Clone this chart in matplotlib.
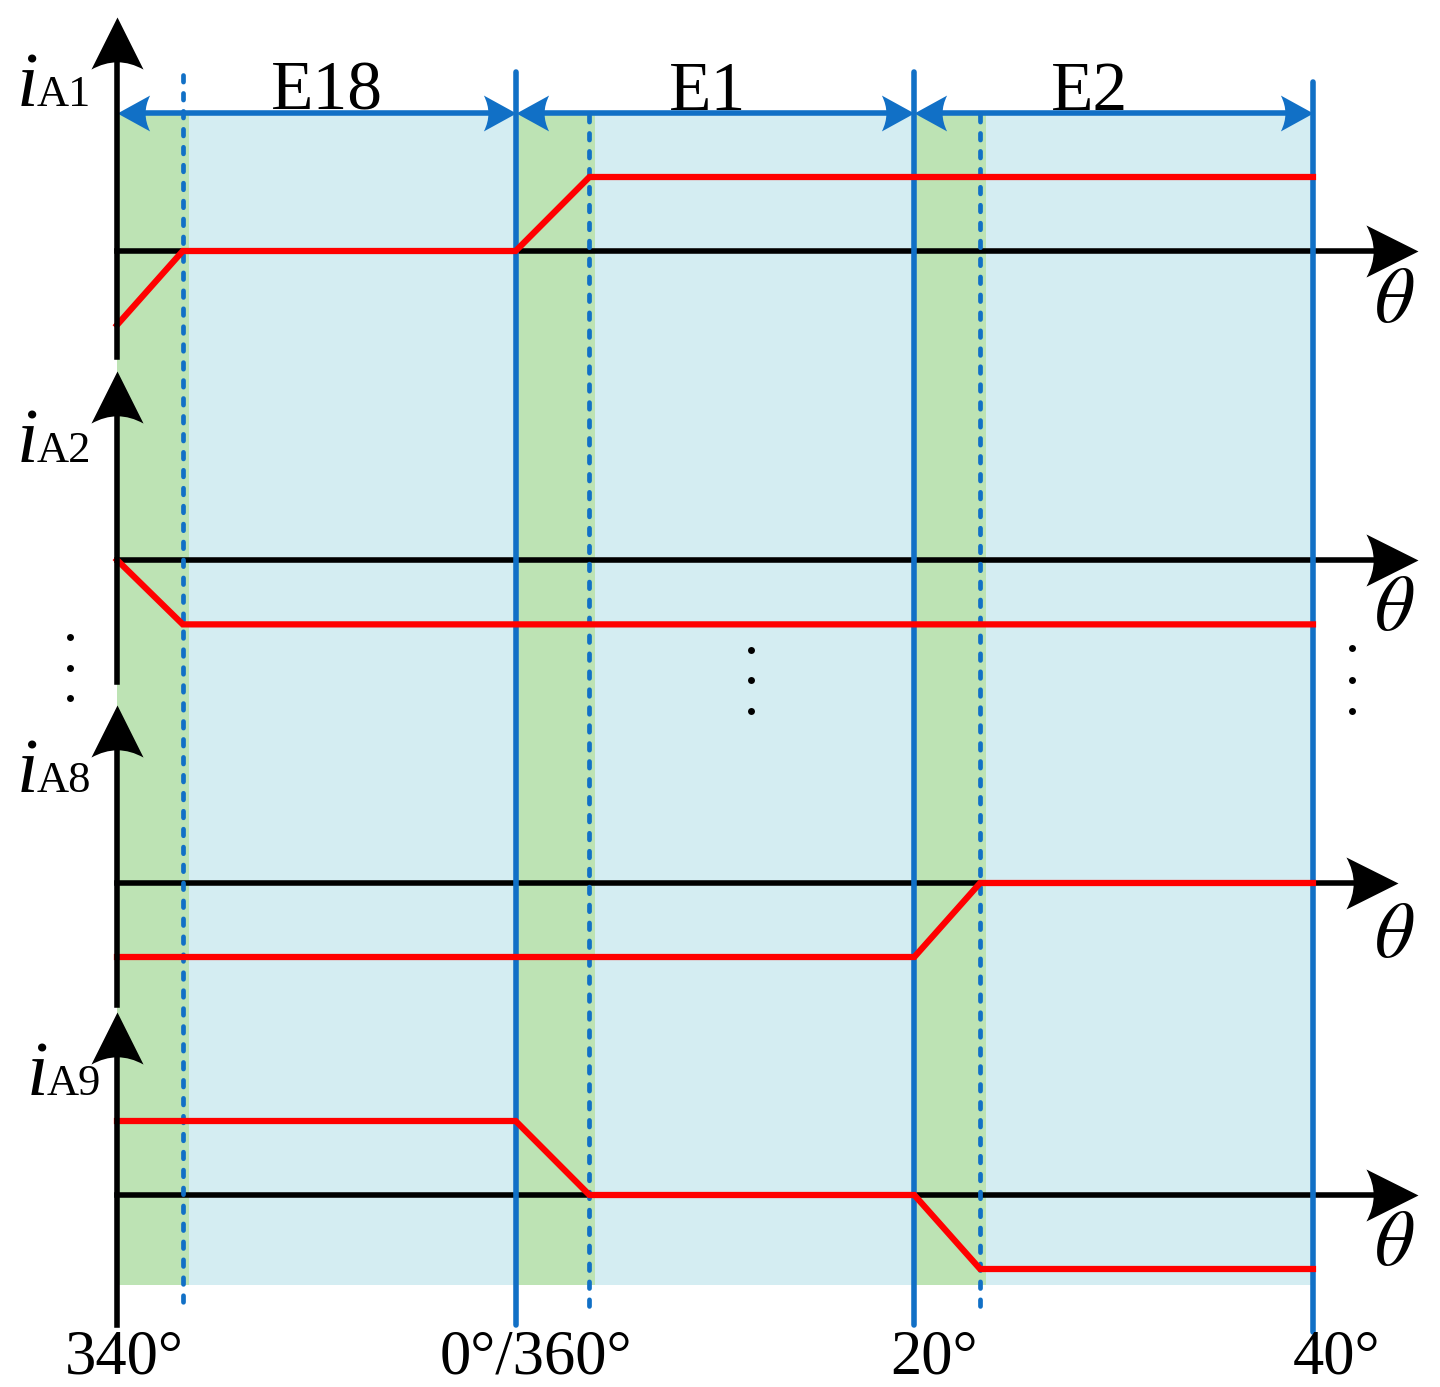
import numpy as np
import matplotlib
matplotlib.use("Agg")
import matplotlib.pyplot as plt
from matplotlib.path import Path
from matplotlib.markers import MarkerStyle
from matplotlib.transforms import Affine2D
from matplotlib.patches import Rectangle

plt.rcParams['mathtext.fontset'] = 'stix'
plt.rcParams['font.family'] = ['Liberation Serif', 'DejaVu Serif']

# === Data ===
# rotor angle in degrees, 340 deg written as -20
sector_edges = [-20, 0, 20, 40]
edge_labels = ['340°', '0°/360°', '20°', '40°']
sector_names = ['E18', 'E1', 'E2']
overlap_end = [-16.7, 3.7, 23.3]     # end of commutation overlap in each sector

phases = ['A1', 'A2', 'A8', 'A9']
theta_A1 = [-20, -16.7, 0, 3.7, 40]
i_A1 = [-1, 0, 0, 1, 1]
theta_A2 = [-20, -16.7, 40]
i_A2 = [0, -0.87, -0.87]
theta_A8 = [-20, 20, 23.3, 40]
i_A8 = [-1, -1, 0, 0]
theta_A9 = [-20, 0, 3.7, 20, 23.3, 40]
i_A9 = [1, 1, 0, 0, -1, -1]
waves = [(theta_A1, i_A1), (theta_A2, i_A2), (theta_A8, i_A8), (theta_A9, i_A9)]

# === Layout (vertical unit = pixel rows, x = degrees) ===
W, H = 1440, 1387
PX_PER_DEG = 19.933
X0_PX = 117


def X(px):
    return -20 + (px - X0_PX) / PX_PER_DEG


baselines = [251, 560, 883, 1195]
AMP = 74
axis_top = [17, 371, 705, 1012]
axis_bottom = [357, 682, 1005, 1325]
axis_tip = [1418, 1418, 1398, 1418]
label_left = [17, 17, 17, 27]
label_base = [106, 462, 792, 1095]
theta_y = [303, 611, 938, 1246]

GREEN = '#bde3b4'
LBLUE = '#d4edf2'
BLUE = '#1170c6'
RED = '#ff0000'
LW = 4.0


def head(angle, width=1.0):
    verts = [(0, 0), (-1, width / 2), (-0.72, 0), (-1, -width / 2), (0, 0)]
    codes = [Path.MOVETO, Path.LINETO, Path.CURVE3, Path.CURVE3, Path.CLOSEPOLY]
    return MarkerStyle(Path(verts, codes), transform=Affine2D().rotate_deg(angle))


fig = plt.figure(figsize=(W / 100, H / 100), dpi=100)
ax = fig.add_axes([0, 0, 1, 1])
ax.set_xlim(X(0), X(W))
ax.set_ylim(H, 0)
ax.axis('off')

# background regions
ax.add_patch(Rectangle((sector_edges[0], 113), sector_edges[-1] - sector_edges[0], 1285 - 113,
                       facecolor=LBLUE, edgecolor='none', zorder=0))
for s, e in zip(sector_edges[:-1], overlap_end):
    ax.add_patch(Rectangle((s, 113), e - s + 0.3, 1285 - 113,
                           facecolor=GREEN, edgecolor='none', zorder=0.5))

# sector boundaries
for k, x in enumerate(sector_edges[1:]):
    top = 82 if k == 2 else 72
    bot = 1332 if k == 2 else 1325
    ax.plot([x, x], [top, bot], color=BLUE, lw=LW, solid_capstyle='round', zorder=3)
for k, x in enumerate(overlap_end):
    top = 75 if k == 0 else 115
    ax.plot([x, x], [top, 1313], color=BLUE, lw=3.4, linestyle=(0, (1.4, 2.4)),
            dash_capstyle='round', zorder=3)

# sector arrows and names
name_x = [327, 708, 1090]
for k, (s, e) in enumerate(zip(sector_edges[:-1], sector_edges[1:])):
    ax.plot([s + 1, e - 1], [113, 113], color=BLUE, lw=LW, zorder=4)
    ax.plot([s], [113], marker=head(180, 1.1), ms=47, color=BLUE, mew=0, zorder=4)
    ax.plot([e], [113], marker=head(0, 1.1), ms=47, color=BLUE, mew=0, zorder=4)
    ax.text(X(name_x[k]), 110, sector_names[k], fontsize=50, ha='center', va='baseline', zorder=5)

# phase axes and currents
for k in range(len(phases)):
    y0 = baselines[k]
    # vertical axis
    ax.plot([-20, -20], [axis_bottom[k], axis_top[k] + 40], color='black', lw=LW, zorder=5)
    ax.plot([-20], [axis_top[k]], marker=head(90), ms=75, color='black', mew=0, zorder=6)
    # horizontal axis
    ax.plot([-20, X(axis_tip[k] - 40)], [y0, y0], color='black', lw=LW, zorder=2)
    ax.plot([X(axis_tip[k])], [y0], marker=head(0), ms=75, color='black', mew=0, zorder=6)
    # current
    th, cur = waves[k]
    ax.plot(th, y0 - AMP * np.array(cur), color=RED, lw=4.5, solid_joinstyle='miter', zorder=4)
    # labels
    ax.text(X(label_left[k]), label_base[k], 'i', fontsize=56, fontstyle='italic',
            ha='left', va='baseline', zorder=6)
    ax.text(X(label_left[k] + 20), label_base[k], phases[k], fontsize=32,
            ha='left', va='baseline', zorder=6)
    ax.text(X(1394), theta_y[k], r'$\theta$', fontsize=56, ha='center', va='center', zorder=6)

# bottom angle labels
label_left_px = [65, 440, 890, 1293]
for k, lab in enumerate(edge_labels):
    ax.text(X(label_left_px[k]), 1373, lab, fontsize=45, ha='left', va='baseline')

# ellipsis dots between A2 and A8
dot_x = [X(70), X(751), X(1352)]
dot_y = [[637, 668, 698], [650, 680, 711], [648, 680, 711]]
for x, ys in zip(dot_x, dot_y):
    ax.plot([x] * len(ys), ys, 'o', color='black', ms=5, mew=0, zorder=6)

fig.savefig('out.png', dpi=100)
